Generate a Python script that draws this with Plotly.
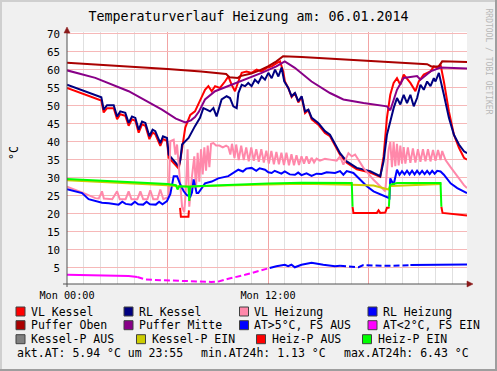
import plotly.graph_objects as go

# ---------------- data (hours since Mon 00:00, °C) ----------------
VL_KESSEL = [(0,55.0),(0.5,54.1),(1.0,53.2),(1.5,52.3),(2.05,51.5),(2.19,48.2),(2.39,49.4),(2.79,49.4),(2.99,46.3),(3.18,47.7),(3.48,47.3),(3.68,44.5),(3.88,46.3),(4.08,45.9),(4.28,42.6),(4.48,44.9),(4.68,44.5),(4.92,40.8),(5.11,42.6),(5.27,42.2),(5.57,38.9),(5.73,40.8),(5.97,40.3),(6.07,35.7),(6.47,33.6),(6.67,32.6),(6.8,36.0),(6.95,41.5),(7.06,44.0),(7.36,47.5),(7.64,48.5),(7.94,51.5),(8.24,54.5),(8.44,55.5),(8.64,54.1),(8.84,55.5),(9.13,55.0),(9.43,56.8),(9.63,58.2),(9.83,55.9),(10.03,54.1),(10.23,56.8),(10.43,59.2),(10.72,59.6),(11.02,59.2),(11.32,60.1),(11.62,59.6),(11.92,60.6),(12.22,61.0),(12.52,61.9),(12.72,62.4),(12.91,59.6),(13.01,56.8),(13.21,55.0),(13.41,52.5),(13.61,53.6),(13.81,51.0),(14.01,52.5),(14.21,48.0),(14.41,48.8),(14.61,46.3),(15.0,44.8),(15.4,42.5),(15.7,41.6),(16.0,39.0),(16.3,36.5),(16.7,34.2),(17.3,32.4),(18.1,31.5),(18.7,30.3),(18.9,36.0),(19.1,46.7),(19.3,53.1),(19.5,56.4),(19.7,57.7),(19.9,55.9),(20.1,58.7),(20.3,57.5),(20.5,56.4),(20.8,54.1),(21.0,56.8),(21.3,58.7),(21.7,59.6),(21.9,61.0),(22.1,60.6),(22.3,61.5),(22.5,56.8),(22.8,48.5),(23.1,42.0),(23.4,38.4),(23.7,35.6),(23.88,35.1)]

RL_KESSEL = [(0,55.9),(0.5,55.0),(1.0,54.1),(1.5,53.2),(2.05,52.4),(2.19,49.0),(2.39,50.2),(2.79,50.2),(2.99,47.1),(3.18,48.5),(3.48,48.1),(3.68,45.3),(3.88,47.1),(4.08,46.7),(4.28,43.4),(4.48,45.7),(4.68,45.3),(4.92,41.6),(5.11,43.4),(5.27,43.0),(5.57,39.7),(5.73,41.6),(5.97,41.1),(6.07,36.5),(6.47,34.2),(6.67,33.2),(6.77,35.1),(6.87,39.3),(7.26,41.1),(7.56,43.9),(7.64,44.4),(7.94,46.7),(8.14,49.4),(8.34,49.0),(8.54,48.5),(8.74,49.4),(8.93,47.1),(9.23,51.8),(9.53,52.7),(9.73,52.2),(9.93,49.9),(10.13,49.4),(10.23,53.6),(10.43,55.9),(10.63,55.5),(10.82,56.4),(11.02,55.5),(11.22,57.3),(11.42,56.4),(11.62,58.2),(11.82,57.3),(12.02,59.2),(12.22,57.7),(12.42,60.1),(12.62,58.2),(12.81,60.7),(12.97,56.8),(13.21,55.0),(13.41,52.7),(13.61,53.6),(13.81,51.3),(14.01,52.7),(14.21,48.5),(14.41,49.0),(14.61,46.7),(15.0,45.3),(15.4,43.0),(15.7,42.0),(16.0,39.3),(16.3,36.9),(16.7,34.6),(17.3,32.8),(18.1,31.9),(18.7,30.5),(18.9,34.6),(19.1,42.0),(19.3,45.7),(19.5,49.4),(19.7,52.2),(19.9,50.4),(20.1,53.1),(20.3,50.8),(20.5,53.1),(20.7,49.9),(20.9,52.2),(21.1,55.9),(21.3,54.5),(21.5,56.8),(21.7,55.5),(21.9,57.7),(22.0,56.8),(22.2,59.2),(22.5,53.1),(22.8,46.7),(23.1,42.0),(23.4,39.3),(23.7,37.4),(23.88,36.9)]

VL_HEIZUNG = [(0,27.6),(0.5,26.8),(1.0,25.8),(1.69,24.4),(1.9,24.3),(2.09,26.3),(2.2,24.3),(2.7,24.1),(2.99,26.3),(3.15,24.1),(3.5,24.1),(3.68,26.3),(3.85,24.1),(4.2,24.1),(4.38,26.3),(4.55,24.1),(4.8,24.1),(4.97,26.6),(5.15,24.1),(5.4,24.1),(5.57,26.8),(5.75,24.1),(6.0,24.6),(6.07,25.2),(6.17,40.2),(6.37,40.6),(6.47,36.5),(6.57,39.3),(6.67,33.7),(6.77,28.1),(6.87,22.0),(7.0,20.5),(7.1,27.0),(7.2,38.0),(7.3,22.0),(7.45,30.0),(7.6,36.0),(7.7,27.0),(7.8,37.0),(7.9,29.0),(8.0,38.0),(8.1,31.0),(8.2,38.5),(8.3,32.0),(8.4,39.0),(8.5,33.0),(8.6,39.5),(8.74,39.7),(8.9,39.0),(9.1,39.0),(9.3,38.5),(9.5,39.0),(9.63,38.6),(9.75,36.5),(9.85,39.5),(10.0,35.5),(10.1,39.3),(10.25,35.0),(10.4,39.0),(10.55,35.0),(10.7,38.5),(10.85,34.6),(11.0,38.5),(11.15,34.8),(11.3,38.0),(11.45,34.5),(11.6,38.0),(11.75,34.3),(11.9,37.6),(12.05,34.0),(12.2,37.5),(12.35,33.8),(12.5,37.2),(12.65,33.8),(12.8,37.0),(12.95,33.6),(13.1,37.0),(13.25,33.5),(13.4,36.6),(13.55,33.5),(13.7,36.3),(13.85,33.6),(14.0,36.0),(14.15,34.0),(14.3,36.0),(14.45,34.0),(14.6,35.6),(14.75,34.3),(14.9,35.4),(15.1,34.8),(15.4,35.3),(15.7,35.1),(16.1,34.8),(16.3,36.0),(16.5,33.7),(16.8,36.9),(17.0,36.0),(17.2,36.5),(17.7,32.8),(18.3,29.5),(19.0,26.3),(19.1,31.9),(19.2,37.9),(19.3,40.0),(19.4,33.0),(19.5,40.0),(19.6,33.3),(19.7,39.5),(19.8,33.5),(19.9,39.0),(20.0,34.0),(20.1,38.6),(20.2,34.0),(20.35,38.5),(20.5,34.2),(20.65,38.2),(20.8,34.3),(20.95,38.0),(21.1,34.5),(21.25,38.0),(21.4,34.6),(21.55,38.0),(21.7,34.6),(21.85,37.8),(22.0,34.8),(22.15,37.8),(22.3,35.0),(22.4,37.5),(22.6,35.0),(22.9,33.0),(23.2,31.0),(23.5,29.0),(23.7,28.0),(23.88,27.2)]

RL_HEIZUNG = [(0,26.9),(0.5,26.3),(0.9,25.8),(1.29,24.1),(1.7,23.5),(2.09,23.1),(2.5,23.0),(3.08,22.6),(3.3,23.4),(3.5,22.8),(3.85,22.6),(4.05,23.4),(4.25,22.7),(4.55,22.6),(4.75,23.4),(4.95,22.7),(5.3,22.6),(5.5,23.4),(5.7,22.7),(5.97,23.6),(6.17,25.6),(6.37,30.5),(6.57,30.5),(6.77,28.1),(6.97,26.3),(7.16,25.2),(7.36,24.8),(7.46,26.0),(7.56,29.6),(7.74,25.8),(7.84,25.8),(8.04,27.2),(8.24,28.5),(8.64,29.0),(9.03,29.9),(9.63,30.5),(9.9,31.3),(10.23,32.3),(10.5,31.8),(10.7,32.6),(11.02,32.8),(11.3,32.0),(11.5,32.7),(11.82,32.3),(12.02,31.6),(12.22,31.4),(12.4,32.0),(12.6,31.7),(12.8,31.2),(13.0,31.8),(13.3,31.0),(13.61,30.9),(13.8,31.5),(14.0,30.8),(14.3,31.3),(14.6,30.6),(14.9,31.2),(15.2,31.1),(15.5,31.6),(16.0,31.4),(16.3,31.9),(16.5,30.9),(16.7,31.9),(17.1,31.4),(17.3,30.5),(17.9,27.7),(18.3,26.3),(19.1,24.6),(19.25,24.4),(19.3,29.9),(19.5,28.1),(19.7,32.3),(19.85,30.9),(20.0,31.9),(20.15,31.0),(20.3,32.0),(20.45,31.0),(20.6,32.0),(20.75,31.0),(20.9,32.0),(21.05,31.1),(21.2,32.0),(21.35,31.1),(21.5,32.0),(21.65,31.1),(21.8,32.0),(21.95,31.2),(22.1,32.0),(22.3,31.8),(22.5,30.9),(22.9,28.5),(23.3,27.2),(23.88,25.8)]

PUFFER_OBEN = [(0,62.0),(2,61.5),(4,60.9),(6,60.3),(8,59.6),(9.5,58.9),(9.7,58.0),(10.2,57.8),(10.35,58.3),(11.0,59.0),(11.5,59.9),(12.0,61.0),(12.5,62.4),(12.9,63.8),(14,63.6),(16,63.1),(18,62.5),(20,62.0),(21.5,61.6),(21.75,61.0),(22.2,61.0),(22.4,62.4),(23.88,62.2)]

PUFFER_MITTE = [(0,59.9),(1.69,57.8),(3.68,54.1),(5.67,49.0),(6.5,46.5),(6.87,45.7),(7.06,45.4),(7.4,46.0),(7.64,46.9),(7.86,48.3),(8.24,51.8),(8.84,54.1),(9.63,55.5),(10.63,57.3),(11.62,59.2),(12.5,61.0),(13.0,62.4),(13.6,60.6),(14.6,56.8),(15.7,53.6),(16.5,51.8),(17.7,50.8),(19.1,49.9),(19.3,48.8),(19.7,54.5),(20.1,57.8),(20.9,58.3),(21.1,57.3),(21.7,59.6),(22.3,60.7),(23.88,60.4)]

# outside temperature, split by state (solid / gappy stretches)
AT_KALT_A = [(0,3.1),(1.0,3.0),(2.0,2.9),(3.68,2.8),(4.2,2.5)]
AT_KALT_B = [(4.2,2.5),(4.68,1.8),(5.67,1.6),(8.06,1.3),(8.6,1.13),(9.1,1.3),(9.63,2.0),(10.63,3.1),(11.62,4.35),(12.1,5.0)]
AT_WARM_A = [(12.1,5.0),(12.5,5.5),(13.0,5.9),(13.2,5.5),(13.4,5.9),(13.6,5.2),(14.0,5.9),(14.6,6.43),(15.3,5.9),(16.0,5.5),(16.3,5.6)]
AT_WARM_B = [(16.3,5.6),(16.9,5.3),(17.4,5.2),(17.7,5.8),(19.0,5.6),(20.0,5.7),(20.5,5.8)]
AT_WARM_C = [(20.5,5.8),(21.0,5.8),(22.0,5.9),(23.0,5.9),(23.88,5.94)]

KESSELP_EIN = [(0,29.4),(3,28.8),(6,28.0),(6.7,27.7),(7.3,27.6),(10,28.0),(14,28.4),(17.0,28.1),(18.3,27.9),(18.8,27.3),(19.2,26.8),(19.3,27.8),(22.35,28.3)]
HEIZP_AUS = [(6.75,21.7),(6.8,19.2),(7.25,19.2),(7.28,21.0),(7.29,None),(17.05,22.0),(17.1,20.3),(18.5,20.3),(18.6,21.0),(18.7,20.3),(19.0,20.4),(19.1,21.7),(19.2,21.7),(19.22,22.0),(19.23,None),(22.35,22.0),(22.42,20.3),(23.88,19.6)]
HEIZP_EIN = [(0,29.7),(1,29.5),(2,29.3),(3,29.1),(4,28.9),(5,28.6),(6,28.3),(6.5,28.0),(6.6,26.8),(6.7,27.7),(7.25,27.6),(7.3,23.6),(7.35,27.6),(8,27.8),(10,28.2),(12,28.5),(14,28.7),(16,28.6),(17.0,28.6),(17.05,22.0),(17.06,None),(19.22,22.0),(19.28,28.1),(19.7,28.6),(21,28.6),(22.3,28.6),(22.35,22.0)]

LEGEND_LABELS = ["VL Kessel", "RL Kessel", "VL Heizung", "RL Heizung",
                 "Puffer Oben", "Puffer Mitte", "AT>5°C, FS AUS", "AT<2°C, FS EIN",
                 "Kessel-P AUS", "Kessel-P EIN", "Heiz-P AUS", "Heiz-P EIN"]
LEGEND_COLORS = ["#ff0000", "#000080", "#ff88aa", "#0000ff",
                 "#aa0000", "#880088", "#0000ff", "#ff00ff",
                 "#808080", "#cccc00", "#ff0000", "#00ff00"]
X_TICKS = [0, 6, 12, 18]
X_TICK_TEXT = ["Mon 00:00", "", "Mon 12:00", ""]
TITLE = "Temperaturverlauf Heizung am: 06.01.2014"

# ---------------- geometry ----------------
W, H = 497, 371
L, R, T, B = 67, 30, 32, 87
PW, PH = W - L - R, H - T - B
BOT = H - B
MONO = "DejaVu Sans Mono"

def px(x):
    return (x - L) / PW

def py(y):
    return (BOT - y) / PH

def split(pairs):
    return [p[0] for p in pairs], [p[1] for p in pairs]

fig = go.Figure()

def add(pairs, color, dash=None, width=2):
    xs, ys = split(pairs)
    fig.add_trace(go.Scatter(x=xs, y=ys, mode="lines", connectgaps=False,
                             line=dict(color=color, width=width, dash=dash),
                             hoverinfo="skip", showlegend=False))

add(VL_KESSEL, LEGEND_COLORS[0])
add(RL_KESSEL, LEGEND_COLORS[1])
add(VL_HEIZUNG, LEGEND_COLORS[2])
add(RL_HEIZUNG, LEGEND_COLORS[3])
add(PUFFER_OBEN, LEGEND_COLORS[4])
add(PUFFER_MITTE, LEGEND_COLORS[5])
add(AT_WARM_A, LEGEND_COLORS[6])
add(AT_WARM_B, LEGEND_COLORS[6], dash="6px,3px")
add(AT_WARM_C, LEGEND_COLORS[6])
add(AT_KALT_A, LEGEND_COLORS[7])
add(AT_KALT_B, LEGEND_COLORS[7], dash="6px,3px")
add(KESSELP_EIN, LEGEND_COLORS[9])
add(HEIZP_AUS, LEGEND_COLORS[10])
add(HEIZP_EIN, LEGEND_COLORS[11])

shapes = []
annotations = []

# frame
shapes.append(dict(type="line", xref="paper", yref="paper", x0=px(0), x1=px(W), y0=py(1), y1=py(1), line=dict(color="#cfcfcf", width=2)))
shapes.append(dict(type="line", xref="paper", yref="paper", x0=px(1), x1=px(1), y0=py(0), y1=py(H), line=dict(color="#cfcfcf", width=2)))
shapes.append(dict(type="line", xref="paper", yref="paper", x0=px(0), x1=px(W), y0=py(H - 1), y1=py(H - 1), line=dict(color="#9e9e9e", width=2)))
shapes.append(dict(type="line", xref="paper", yref="paper", x0=px(W - 1), x1=px(W - 1), y0=py(0), y1=py(H), line=dict(color="#9e9e9e", width=2)))

# axes with arrows
AX = "#505050"
AR = "#8b1a1a"
shapes.append(dict(type="line", xref="paper", yref="paper", x0=px(63), x1=px(468), y0=py(BOT), y1=py(BOT), line=dict(color=AX, width=1)))
shapes.append(dict(type="line", xref="paper", yref="paper", x0=px(L), x1=px(L), y0=py(BOT + 3), y1=py(32), line=dict(color=AX, width=1)))
shapes.append(dict(type="path", xref="paper", yref="paper",
                   path=f"M {px(473)} {py(BOT)} L {px(467)} {py(BOT-3)} L {px(467)} {py(BOT+3)} Z",
                   fillcolor=AR, line=dict(color=AR, width=0.5)))
shapes.append(dict(type="path", xref="paper", yref="paper",
                   path=f"M {px(L)} {py(27)} L {px(L-3)} {py(33)} L {px(L+3)} {py(33)} Z",
                   fillcolor=AR, line=dict(color=AR, width=0.5)))

# legend
ROW_Y = [311.5, 325.2, 339.2]
SQ_X = [[16, 124, 239.5, 368], [16, 124, 239.5, 368], [16, 136.5, 256.5, 362.5]]
TX_X = [[30, 138, 253, 382], [30, 138, 253, 382], [30, 150.5, 270.5, 376.5]]
LEG_FONT = dict(family=MONO, size=11.5, color="#000000")
for i, (lab, col) in enumerate(zip(LEGEND_LABELS, LEGEND_COLORS)):
    r, c = divmod(i, 4)
    sx, yy = SQ_X[r][c], ROW_Y[r]
    shapes.append(dict(type="rect", xref="paper", yref="paper",
                       x0=px(sx), x1=px(sx + 9), y0=py(yy + 4.5), y1=py(yy - 4.5),
                       fillcolor=col, line=dict(color="#404040", width=1)))
    annotations.append(dict(text=lab, x=px(TX_X[r][c] - 1), y=py(yy), xref="paper", yref="paper",
                            xanchor="left", yanchor="middle", showarrow=False, font=LEG_FONT))

at_all = [v for seg in (AT_KALT_A, AT_KALT_B, AT_WARM_A, AT_WARM_B, AT_WARM_C) for _, v in seg if v is not None]
STATS = [f"akt.AT: {AT_WARM_C[-1][1]:.2f} °C um 23:55",
         f"min.AT24h: {min(at_all):.2f} °C",
         f"max.AT24h: {max(at_all):.2f} °C"]
STATS_X = [16, 200, 342.5]
for s, sx in zip(STATS, STATS_X):
    annotations.append(dict(text=s, x=px(sx - 1), y=py(352.8), xref="paper", yref="paper",
                            xanchor="left", yanchor="middle", showarrow=False, font=LEG_FONT))

# y axis unit
annotations.append(dict(text="°C", x=px(14), y=py(153), xref="paper", yref="paper", textangle=-90,
                        xanchor="center", yanchor="middle", showarrow=False,
                        font=dict(family=MONO, size=11.5, color="#000000")))
# watermark
annotations.append(dict(text="RRDTOOL / TOBI OETIKER", x=px(488.5), y=py(61), xref="paper", yref="paper",
                        textangle=90, xanchor="center", yanchor="middle", showarrow=False,
                        font=dict(family=MONO, size=8, color="#b8b8b8")))

fig.update_layout(
    width=W, height=H,
    margin=dict(l=L, r=R, t=T, b=B, pad=0, autoexpand=False),
    paper_bgcolor="#f0f0f0", plot_bgcolor="#ffffff",
    title=dict(text=TITLE, x=0.5, xref="container", xanchor="center",
               y=1 - 16 / H, yref="container", yanchor="middle", automargin=False,
               font=dict(family=MONO, size=13.3, color="#000000")),
    xaxis=dict(range=[0, 23.88], tickmode="array", tickvals=X_TICKS, ticktext=X_TICK_TEXT,
               showgrid=True, gridcolor="#f2a4a4", gridwidth=1, zeroline=False, showline=False,
               ticks="", ticklabelstandoff=4, automargin=False,
               tickfont=dict(family=MONO, size=10.2, color="#000000"),
               minor=dict(tick0=0, dtick=1, showgrid=True, gridcolor="#e0e0e0", gridwidth=1, ticks="")),
    yaxis=dict(range=[0.55, 70.55], tick0=0, dtick=5,
               showgrid=True, gridcolor="#f6b8b8", gridwidth=1, zeroline=False, showline=False,
               ticks="", ticklabelstandoff=6, automargin=False,
               tickfont=dict(family=MONO, size=10.8, color="#000000")),
    shapes=shapes, annotations=annotations, showlegend=False,
)

fig.write_html("out.html", config={"displayModeBar": False, "staticPlot": True},
               post_script="document.body.style.margin='0';document.body.style.overflow='hidden';")
